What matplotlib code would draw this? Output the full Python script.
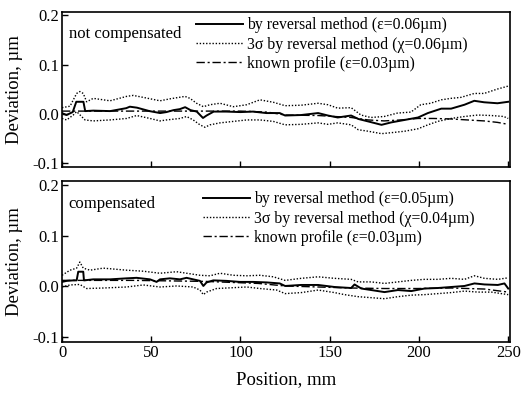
import numpy as np
import matplotlib
matplotlib.use("Agg")
import matplotlib.pyplot as plt
from matplotlib.ticker import FormatStrFormatter

plt.rcParams['font.family'] = ['Liberation Serif', 'DejaVu Serif']
plt.rcParams['axes.unicode_minus'] = False

# ---- top panel: not compensated ----
top_rev_x = [0, 2.5, 6, 8, 12, 13, 17.5, 27, 36, 38, 42, 49, 55, 58.5, 62.5, 66, 69, 72, 75.5, 79,
             81, 85, 92, 100, 107, 114.5, 122, 125, 134, 143.5, 149, 154.5, 162, 166, 171.5, 179,
             184.5, 192, 199.5, 205, 212.5, 218, 225.5, 231, 236.5, 244, 250]
top_rev_y = [0.001, -0.003, 0.003, 0.024, 0.024, 0.005, 0.006, 0.005, 0.011, 0.014, 0.012, 0.005,
             0.001, 0.003, 0.007, 0.009, 0.013, 0.007, 0.004, -0.009, -0.004, 0.004, 0.004, 0.003,
             0.004, 0.001, 0.001, -0.004, -0.003, 0.001, -0.004, -0.008, -0.004, -0.011, -0.016,
             -0.023, -0.018, -0.013, -0.008, 0.001, 0.010, 0.010, 0.018, 0.026, 0.023, 0.021, 0.024]

top_up_x = [0, 4.5, 8.2, 10, 11.9, 13.8, 17.5, 26.9, 36.2, 39.9, 45.5, 54.9, 60.5, 68.9, 71.7,
            75.4, 79.2, 82.9, 88.5, 96, 103.5, 110.9, 118.4,
            125, 134, 143.5, 149, 154.5, 162, 167.5, 173, 180.5, 188, 195.5, 201, 206.5, 212.5,
            218, 223.5, 231, 236.5, 244, 250]
top_up_y = [0.012, 0.015, 0.041, 0.045, 0.041, 0.024, 0.031, 0.026, 0.035, 0.037, 0.033, 0.026,
            0.030, 0.035, 0.031, 0.021, 0.014, 0.018, 0.021, 0.014, 0.018, 0.028, 0.023,
            0.016, 0.017, 0.021, 0.018, 0.011, 0.012, -0.003, -0.008, -0.006, 0.001, 0.003,
            0.018, 0.021, 0.028, 0.031, 0.033, 0.041, 0.041, 0.050, 0.056]

top_lo_x = [0, 2.6, 6.3, 8.2, 12.9, 17.5, 26.9, 36.2, 41.8, 49.3, 54.9, 58.6, 66.1, 69.8, 73.5,
            77.3, 80.1, 82.9, 88.5, 96, 103.5, 110.9, 118.4,
            125, 134, 143.5, 149, 154.5, 162, 166, 171.5, 179, 184.5, 192, 199.5, 205, 210.5,
            218, 225.5, 233, 240.5, 247.5, 250]
top_lo_y = [-0.010, -0.013, -0.003, 0.004, -0.013, -0.015, -0.013, -0.010, -0.004, -0.010,
            -0.015, -0.013, -0.010, -0.006, -0.013, -0.023, -0.028, -0.023, -0.019, -0.016,
            -0.013, -0.013, -0.016,
            -0.023, -0.022, -0.019, -0.022, -0.019, -0.023, -0.033, -0.036, -0.041, -0.039,
            -0.036, -0.031, -0.023, -0.016, -0.010, -0.006, -0.003, -0.004, -0.006, -0.010]

top_known_x = [0, 20, 40, 60, 80, 100, 115, 125, 143.5, 162, 171.5, 180.5, 190, 199.5, 208, 218,
               227, 236.5, 244, 250]
top_known_y = [0.005, 0.005, 0.005, 0.005, 0.005, 0.005, 0.003, -0.003, -0.004, -0.008, -0.013,
               -0.015, -0.013, -0.010, -0.010, -0.011, -0.013, -0.015, -0.018, -0.022]

# ---- bottom panel: compensated ----
bot_rev_x = [0, 2.6, 6.3, 8.2, 9.1, 11.9, 12.3, 17.5, 26.9, 36.2, 41.8, 49.3, 53, 54.9, 60.5,
             66.1, 69.8, 73.5, 77.3, 79.2, 81, 84.8, 92.2, 99.7, 107, 114.6, 122,
             125, 134, 143.5, 152.7, 162, 163.9, 167.7, 173.3, 180.7, 188.2, 195.7, 203.1,
             210.6, 218, 225.5, 231.1, 236.7, 244.2, 247.9, 250]
bot_rev_y = [0.009, 0.011, 0.012, 0.012, 0.029, 0.029, 0.012, 0.014, 0.014, 0.016, 0.017, 0.014,
             0.009, 0.014, 0.016, 0.014, 0.017, 0.014, 0.011, 0.001, 0.008, 0.012, 0.011, 0.009,
             0.009, 0.008, 0.006,
             0.001, 0.003, 0.003, -0.001, -0.003, 0.004, -0.004, -0.007, -0.011, -0.007, -0.009,
             -0.004, -0.003, -0.001, 0.001, 0.006, 0.004, 0.003, 0.006, -0.004]

bot_up_x = [0, 4.5, 8.2, 10, 11.9, 15.7, 23.1, 36.2, 45.5, 54.9, 64.2, 69.8, 77.3, 82.9, 88.5,
            96, 103.5, 110.9, 118.4,
            125, 134, 143.5, 152.7, 162, 165.9, 173.3, 180.7, 188.2, 195.7, 203.1, 210.6, 218,
            225.5, 231.1, 236.7, 244.2, 250]
bot_up_y = [0.022, 0.032, 0.036, 0.048, 0.036, 0.032, 0.036, 0.032, 0.030, 0.026, 0.029, 0.026,
            0.022, 0.021, 0.026, 0.022, 0.021, 0.022, 0.019,
            0.012, 0.016, 0.019, 0.016, 0.014, 0.009, 0.009, 0.006, 0.009, 0.012, 0.014, 0.014,
            0.016, 0.014, 0.021, 0.016, 0.014, 0.017]

bot_lo_x = [0, 4.5, 10, 13.8, 23.1, 36.2, 45.5, 54.9, 64.2, 73.5, 77.3, 79.2, 81, 86.6, 92.2,
            103.5, 110.9, 120.3,
            125, 134, 143.5, 152.7, 158.3, 165.9, 173.3, 180.7, 188.2, 195.7, 203.1, 210.6, 218,
            225.5, 233, 240.5, 250]
bot_lo_y = [-0.001, 0.003, 0.004, -0.004, -0.003, -0.001, 0.003, -0.001, 0.001, -0.001, -0.007,
            -0.016, -0.011, -0.004, -0.003, -0.001, -0.004, -0.007,
            -0.014, -0.012, -0.007, -0.012, -0.016, -0.020, -0.022, -0.024, -0.020, -0.017,
            -0.016, -0.014, -0.012, -0.009, -0.011, -0.011, -0.016]

bot_known_x = [0, 40, 80, 110, 125, 162, 180.7, 199.4, 218, 236.7, 250]
bot_known_y = [0.012, 0.012, 0.010, 0.006, 0.001, -0.003, -0.004, -0.004, -0.003, -0.005, -0.011]

top_labels = ["by reversal method (\u03b5=0.06\u00b5m)",
              "3\u03c3 by reversal method (\u03c7=0.06\u00b5m)",
              "known profile (\u03b5=0.03\u00b5m)"]
bot_labels = ["by reversal method (\u03b5=0.05\u00b5m)",
              "3\u03c3 by reversal method (\u03c7=0.04\u00b5m)",
              "known profile (\u03b5=0.03\u00b5m)"]

fig = plt.figure(figsize=(5.25, 3.97), dpi=100)
ax1 = fig.add_axes([0.1181, 0.5793, 0.8533, 0.3904])
ax2 = fig.add_axes([0.1181, 0.1385, 0.8533, 0.4055])


def draw(ax, rx, ry, ux, uy, lx, ly, kx, ky, labels, title, leg_x, leg_y):
    h1, = ax.plot(rx, ry, color='black', lw=1.4, ls='-')
    h2, = ax.plot(ux, uy, color='black', lw=1.0, ls=(0, (1, 1.3)))
    ax.plot(lx, ly, color='black', lw=1.0, ls=(0, (1, 1.3)))
    h3, = ax.plot(kx, ky, color='black', lw=1.0, ls=(0, (6, 2, 1.5, 2)))
    ax.set_xlim(0, 251)
    ax.set_ylim(-0.109, 0.207)
    ax.set_yticks([-0.1, 0.0, 0.1, 0.2])
    ax.set_xticks([0, 50, 100, 150, 200, 250])
    ax.yaxis.set_major_formatter(FormatStrFormatter('%.1f'))
    ax.tick_params(direction='in', length=4, width=1, labelsize=12, pad=2)
    for s in ax.spines.values():
        s.set_linewidth(1.2)
    ax.text(0.015, 0.86, title, transform=ax.transAxes, fontsize=12, va='center')
    ax.legend([h1, h2, h3], labels, loc='upper left', bbox_to_anchor=(leg_x, leg_y),
              frameon=False, fontsize=11.3, handlelength=3.0, handletextpad=0.25,
              borderpad=0, borderaxespad=0, labelspacing=0.2)
    ax.set_ylabel("Deviation, \u00b5m", fontsize=13.5)
    ax.yaxis.set_label_coords(-0.087, 0.5)


draw(ax1, top_rev_x, top_rev_y, top_up_x, top_up_y, top_lo_x, top_lo_y,
     top_known_x, top_known_y, top_labels, "not compensated", 0.30, 0.965)
draw(ax2, bot_rev_x, bot_rev_y, bot_up_x, bot_up_y, bot_lo_x, bot_lo_y,
     bot_known_x, bot_known_y, bot_labels, "compensated", 0.315, 0.935)

ax1.tick_params(labelbottom=False)
ax2.set_xlabel("Position, mm", fontsize=13.5)
ax2.xaxis.set_label_coords(0.5, -0.18)

fig.savefig("out.png", dpi=100)
